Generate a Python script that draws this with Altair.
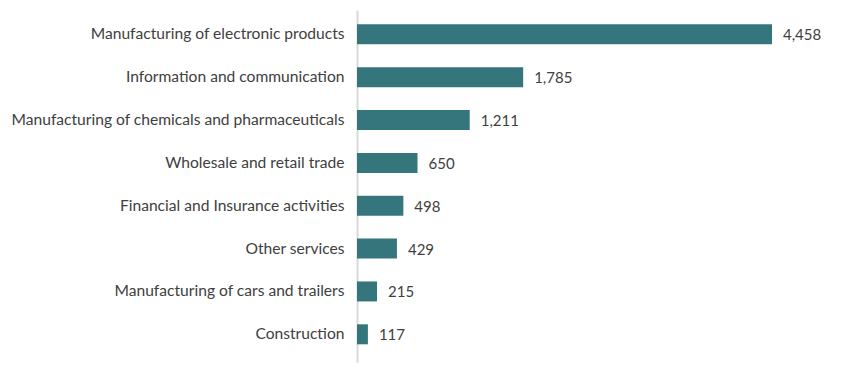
import altair as alt
import pandas as pd

sectors = [
    "Manufacturing of electronic products",
    "Information and communication",
    "Manufacturing of chemicals and pharmaceuticals",
    "Wholesale and retail trade",
    "Financial and Insurance activities",
    "Other services",
    "Manufacturing of cars and trailers",
    "Construction",
]
values = [4458, 1785, 1211, 650, 498, 429, 215, 117]

df = pd.DataFrame({"sector": sectors, "value": values})

FONT = "Lato"
TXT = "#404040"

y_enc = alt.Y(
    "sector:N",
    sort=sectors,
    scale=alt.Scale(paddingInner=0.5333, paddingOuter=0.3733, align=0.447),
    axis=alt.Axis(
        title=None,
        ticks=False,
        domain=True,
        domainColor="#d9d9d9",
        domainWidth=2,
        labelPadding=13,
        labelFont=FONT,
        labelFontSize=15.6,
        labelColor=TXT,
        labelLimit=400,
    ),
)
x_enc = alt.X(
    "value:Q",
    scale=alt.Scale(domain=[0, 4458], nice=False),
    axis=None,
)

bars = alt.Chart(df).mark_bar(color="#35767D", size=20).encode(x=x_enc, y=y_enc)
labels = alt.Chart(df).mark_text(
    align="left", baseline="middle", dx=11, dy=1, font=FONT, fontSize=15, color=TXT
).encode(x=x_enc, y=y_enc, text=alt.Text("value:Q", format=","))

chart = (
    alt.layer(bars, labels)
    .properties(
        width=415,
        height=352,
        background="white",
        autosize=alt.AutoSizeParams(type="none"),
        padding={"left": 349, "top": 2, "right": 70, "bottom": 10},
    )
    .configure_view(strokeWidth=0)
)

chart.save("out.html", embed_options={"renderer": "svg", "actions": False})
